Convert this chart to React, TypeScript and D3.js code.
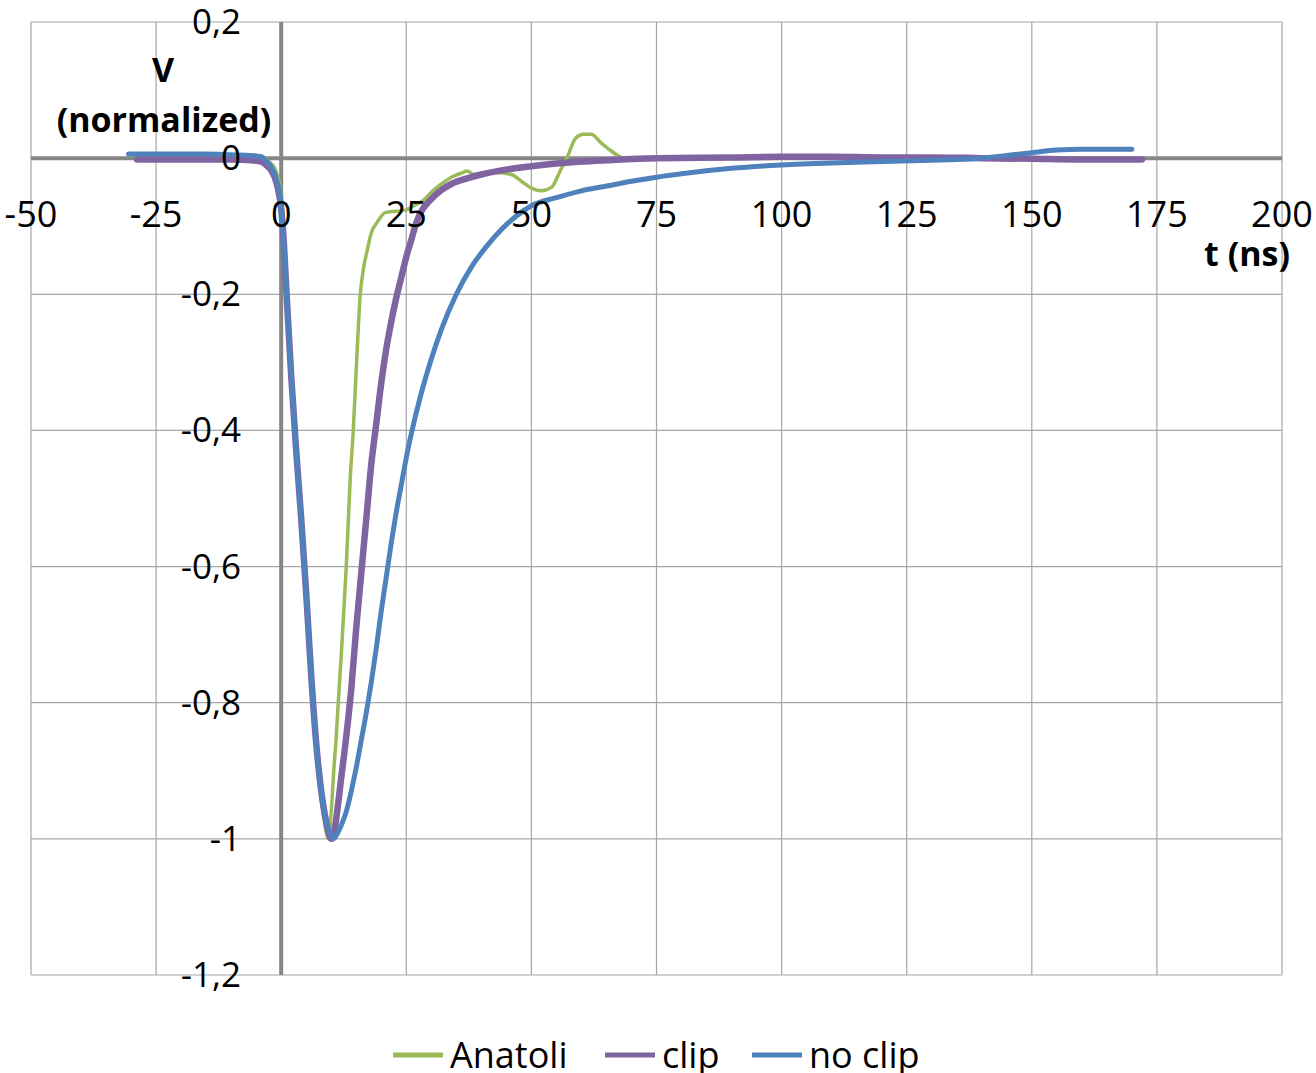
import React from "react";
import * as d3 from "d3";

const xTicks = [-50, -25, 0, 25, 50, 75, 100, 125, 150, 175, 200];
const yTicks = [0.2, 0, -0.2, -0.4, -0.6, -0.8, -1, -1.2];
const yTickLabels = ["0,2", "0", "-0,2", "-0,4", "-0,6", "-0,8", "-1", "-1,2"];

const seriesNames = ["Anatoli", "clip", "no clip"];
const seriesColors = ["#9BBB59", "#8064A2", "#4F81BD"];
const seriesWidths = [3.5, 6.5, 5];

const anatoliT = [-30, -25, -20, -15, -10, -6, -4, -3, -2, -1, 0, 0.5, 1, 2, 3, 4, 5, 6, 7, 8, 9, 9.4, 10, 10.5, 11, 11.4, 12, 13, 13.8, 14.4, 15, 15.8, 16.5, 17.2, 18, 19.2, 20.8, 23, 25, 26.5, 28.4, 30, 32, 34, 36, 37.2, 38.5, 40, 43, 46, 48, 50, 52, 54, 55.8, 57.2, 58.8, 60.4, 62, 63.7, 65.7, 67.7, 70, 80, 90, 100, 120, 140, 160, 170];
const anatoliV = [0.004, 0.004, 0.004, 0.004, 0.004, 0.004, 0.003, -0.002, -0.008, -0.02, -0.055, -0.1, -0.17, -0.3, -0.42, -0.54, -0.66, -0.78, -0.87, -0.94, -0.99, -1.0, -0.96, -0.9, -0.85, -0.8, -0.73, -0.6, -0.47, -0.4, -0.31, -0.2, -0.16, -0.135, -0.11, -0.094, -0.08, -0.078, -0.076, -0.07, -0.062, -0.05, -0.038, -0.028, -0.022, -0.019, -0.024, -0.023, -0.021, -0.024, -0.034, -0.044, -0.048, -0.043, -0.018, 0.002, 0.029, 0.035, 0.035, 0.024, 0.012, 0.002, -0.002, 0, 0.001, 0.001, 0.002, 0.001, 0, 0];

const clipT = [-28.8, -25, -20, -15, -10, -6, -4, -3, -2, -1, 0, 0.5, 1, 2, 3, 4, 5, 6, 7, 8, 9, 10, 10.5, 11, 12, 13, 14, 15, 16, 17, 18, 19, 20, 21, 22, 23, 24, 25, 26, 27, 28, 30, 32, 34, 37, 40, 44, 50, 55, 60, 65, 75, 90, 100, 110, 120, 130, 140, 150, 160, 172];
const clipV = [-0.002, -0.002, -0.002, -0.002, -0.002, -0.003, -0.005, -0.01, -0.018, -0.035, -0.075, -0.12, -0.19, -0.32, -0.43, -0.53, -0.64, -0.76, -0.86, -0.93, -0.975, -1.0, -0.995, -0.97, -0.91, -0.85, -0.78, -0.69, -0.61, -0.53, -0.45, -0.39, -0.33, -0.28, -0.24, -0.205, -0.175, -0.145, -0.12, -0.095, -0.078, -0.06, -0.047, -0.038, -0.03, -0.024, -0.018, -0.012, -0.008, -0.005, -0.003, 0, 0.001, 0.002, 0.002, 0.001, 0.001, 0, -0.001, -0.002, -0.002];

const noClipT = [-30.5, -25, -20, -15, -10, -6, -4, -3, -2, -1, 0, 0.5, 1, 2, 3, 4, 5, 6, 7, 8, 9, 10, 10.5, 11, 12, 13, 14, 15, 16, 17, 18, 19, 20, 21, 22, 23, 24, 25, 26, 28, 30, 32, 35, 38, 41, 44, 47, 50, 55, 60, 65, 70, 75, 80, 90, 100, 110, 120, 130, 135, 140, 145, 150, 155, 160, 165, 170];
const noClipV = [0.006, 0.006, 0.006, 0.006, 0.005, 0.004, 0.002, -0.004, -0.013, -0.03, -0.07, -0.12, -0.19, -0.32, -0.43, -0.53, -0.64, -0.76, -0.86, -0.93, -0.975, -0.995, -1.0, -0.995, -0.98, -0.96, -0.93, -0.895, -0.855, -0.815, -0.77, -0.72, -0.665, -0.615, -0.565, -0.52, -0.48, -0.44, -0.405, -0.345, -0.295, -0.252, -0.2, -0.16, -0.13, -0.105, -0.085, -0.07, -0.058, -0.048, -0.041, -0.034, -0.028, -0.023, -0.015, -0.01, -0.007, -0.005, -0.003, -0.002, 0, 0.004, 0.008, 0.012, 0.013, 0.013, 0.013];

const seriesT = [anatoliT, clipT, noClipT];
const seriesV = [anatoliV, clipV, noClipV];

const W = 1316;
const H = 1073;
const left = 31, right = 1282, top = 22, bottom = 975;
const font = "'Open Sans', 'DejaVu Sans', sans-serif";

export default function App() {
  const x = d3.scaleLinear().domain([-50, 200]).range([left, right]);
  const y = d3.scaleLinear().domain([-1.2, 0.2]).range([bottom, top]);
  const line = d3
    .line<[number, number]>()
    .x((d) => x(d[0]))
    .y((d) => y(d[1]))
    .curve(d3.curveMonotoneX);

  const legendX = [393, 605, 752];

  return (
    <svg
      width={W}
      height={H}
      style={{ position: "absolute", left: 0, top: 0, background: "#fff" }}
      fontFamily={font}
    >
      <rect x={0} y={0} width={W} height={H} fill="#fff" />
      {xTicks.map((t) => (
        <line key={"gx" + t} x1={x(t)} x2={x(t)} y1={top} y2={bottom} stroke="#a6a6a6" strokeWidth={1.2} />
      ))}
      {yTicks.map((t) => (
        <line key={"gy" + t} x1={left} x2={right} y1={y(t)} y2={y(t)} stroke="#a6a6a6" strokeWidth={1.2} />
      ))}
      <line x1={x(0)} x2={x(0)} y1={top} y2={bottom} stroke="#868686" strokeWidth={4} />
      <line x1={left} x2={right} y1={y(0)} y2={y(0)} stroke="#868686" strokeWidth={4} />

      {seriesT.map((ts, i) => (
        <path
          key={seriesNames[i]}
          d={line(ts.map((t, j) => [t, seriesV[i][j]] as [number, number])) || ""}
          fill="none"
          stroke={seriesColors[i]}
          strokeWidth={seriesWidths[i]}
          strokeLinejoin="round"
          strokeLinecap="round"
        />
      ))}

      {xTicks.map((t) => (
        <text key={"lx" + t} x={x(t)} y={227} textAnchor="middle" fontSize={36} fill="#000">
          {String(t)}
        </text>
      ))}
      {yTicks.map((t, i) => (
        <text key={"ly" + t} x={241} y={y(t) + 12} textAnchor="end" fontSize={35} fill="#000">
          {yTickLabels[i]}
        </text>
      ))}

      <text x={163} y={82} textAnchor="middle" fontSize={34} fontWeight="bold">V</text>
      <text x={164} y={132} textAnchor="middle" fontSize={34} fontWeight="bold">(normalized)</text>
      <text x={1290} y={266} textAnchor="end" fontSize={34} fontWeight="bold">t (ns)</text>

      {seriesNames.map((n, i) => (
        <g key={"lg" + n}>
          <line x1={legendX[i]} x2={legendX[i] + 50} y1={1055} y2={1055} stroke={seriesColors[i]} strokeWidth={5} />
          <text x={legendX[i] + 57} y={1068} fontSize={36} fill="#000">{n}</text>
        </g>
      ))}
    </svg>
  );
}
